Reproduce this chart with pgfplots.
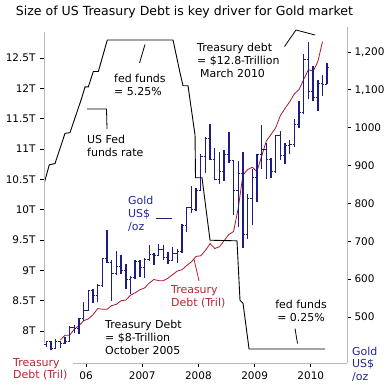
\documentclass[border=0pt]{standalone}
\usepackage{pgfplots}
\pgfplotsset{compat=1.18}
\usepackage{pgfplotstable}
\usepackage{fontspec}
\setmainfont{DejaVu Sans}
\definecolor{goldblue}{HTML}{1C1C84}
\definecolor{debtred}{HTML}{A8182E}
\definecolor{axgray}{HTML}{B8B8B8}
\definecolor{txtblue}{HTML}{24249C}
\definecolor{txtred}{HTML}{BE2430}
\pgfdeclareplotmark{openl}{\pgfpathmoveto{\pgfqpoint{-1.9bp}{0pt}}\pgfpathlineto{\pgfqpoint{0pt}{0pt}}\pgfusepathqstroke}
\pgfdeclareplotmark{closer}{\pgfpathmoveto{\pgfqpoint{0pt}{0pt}}\pgfpathlineto{\pgfqpoint{1.9bp}{0pt}}\pgfusepathqstroke}

% Gold monthly OHLC, t = months since Dec 2004 (Apr 2005 = 4)
\pgfplotstableread{
t o h l c
4 428 437 421 435
5 435 436 414 418
6 418 443 415 435
7 435 437 418 430
8 430 448 428 434
9 434 476 434 473
10 473 478 458 470
11 470 497 456 496
12 496 540 490 517
13 517 572 517 569
14 569 575 538 556
15 556 587 540 582
16 582 654 578 654
17 654 730 643 644
18 644 650 543 614
19 614 675 610 633
20 633 663 613 624
21 624 640 573 600
22 600 607 560 604
23 604 650 600 646
24 646 650 606 632
25 632 655 603 651
26 651 690 648 665
27 665 670 637 662
28 662 693 662 679
29 679 690 651 658
30 658 673 640 650
31 650 685 650 667
32 667 680 642 672
33 672 745 670 743
34 743 790 725 789
35 789 845 775 783
36 783 840 781 834
37 834 930 832 923
38 923 975 880 971
39 971 1011 915 916
40 916 947 861 864
41 864 935 852 885
42 885 940 858 930
43 930 988 906 913
44 913 916 770 833
45 833 912 737 880
46 880 937 681 718
47 718 825 705 814
48 814 890 742 869
49 869 930 805 928
50 928 1008 890 942
51 942 960 865 917
52 917 920 866 884
53 884 980 880 979
54 979 990 915 926
55 926 960 904 954
56 954 967 930 955
57 955 1024 950 1008
58 1008 1070 1000 1040
59 1040 1195 1035 1181
60 1181 1227 1075 1096
61 1096 1162 1070 1081
62 1081 1125 1045 1118
63 1118 1140 1085 1115
64 1115 1170 1115 1160
}\gold

% US Treasury debt, trillions
\pgfplotstableread{
t d
7 7.85
8 7.93
9 7.93
10 8.03
11 8.09
12 8.17
13 8.20
14 8.27
15 8.37
16 8.36
17 8.36
18 8.42
19 8.44
20 8.50
21 8.51
22 8.59
23 8.63
24 8.68
25 8.71
26 8.79
27 8.85
28 8.83
29 8.83
30 8.87
31 8.93
32 8.99
33 9.01
34 9.08
35 9.14
36 9.23
37 9.24
38 9.33
39 9.44
40 9.36
41 9.39
42 9.49
43 9.59
44 9.64
45 10.02
46 10.57
47 10.66
48 10.70
49 10.63
50 10.88
51 11.13
52 11.24
53 11.35
54 11.55
55 11.67
56 11.78
57 11.91
58 11.98
59 12.15
60 12.31
61 12.28
62 12.44
63 12.77
}\debt

% Fed funds rate (percent)
\pgfplotstableread{
x r
3.10 2.94
4.16 3.23
5.38 3.25
7.52 3.74
8.58 3.75
11.08 4.31
11.79 4.49
12.49 4.49
13.56 4.74
14.63 4.74
16.55 5.25
30.58 5.25
32.07 4.72
32.71 4.51
33.78 4.51
35.28 3.71
35.38 3.02
36.77 3.02
38.48 2.01
44.24 2.00
44.88 1.04
45.53 0.99
46.81 0.25
63.04 0.25
}\fed

\begin{document}
\begin{tikzpicture}
\useasboundingbox (0,0) rectangle (388bp,-386bp);
\pgfplotsset{
  common/.style={
    at={(44bp,-363bp)}, anchor=south west, scale only axis,
    width=303bp, height=336bp, xmin=3.03, xmax=67.73,
    tick align=outside,
    major tick style={black, line width=0.8bp},
    major tick length=4bp,
    ticklabel style={font=\fontsize{10.5}{12}\selectfont},
  }
}
% Treasury debt (left axis)
\begin{axis}[common,
  ymin=7.473, ymax=13.011,
  axis x line*=bottom, axis y line*=left, axis line style={draw=none},
  xtick={12,24,36,48,60}, xticklabels={06,2007,2008,2009,2010},
  x tick label style={yshift=-1bp},
  ytick={8,8.5,9,9.5,10,10.5,11,11.5,12,12.5},
  yticklabels={8T,8.5T,9T,9.5T,10T,10.5T,11T,11.5T,12T,12.5T},
  y tick label style={xshift=-1bp},
]
\addplot[debtred, line width=0.8bp] table[x expr=\thisrow{t}-0.5, y=d] {\debt};
\end{axis}
% Gold (right axis)
\begin{axis}[common,
  ymin=378.5, ymax=1266,
  axis y line*=right, axis x line=none, axis line style={draw=none},
  ytick={500,600,700,800,900,1000,1100,1200},
  yticklabels={500,600,700,800,900,1000,{1,100},{1,200}},
]
\addplot[draw=none, mark=none,
  error bars/.cd, y dir=plus, y explicit,
  error mark=none, error bar style={goldblue, line width=1.4bp}]
  table[x expr=\thisrow{t}-0.5, y=l, y error expr=\thisrow{h}-\thisrow{l}] {\gold};
\addplot[goldblue, only marks, mark=openl, mark options={line width=1bp}]
  table[x expr=\thisrow{t}-0.5, y=o] {\gold};
\addplot[goldblue, only marks, mark=closer, mark options={line width=1bp}]
  table[x expr=\thisrow{t}-0.5, y=c] {\gold};
\end{axis}
% Fed funds (hidden axis)
\begin{axis}[common, hide axis, ymin=0.023, ymax=5.46]
\addplot[black, line width=0.9bp] table[x=x, y=r] {\fed};
\end{axis}

\begin{scope}[x=1bp, y=-1bp,
  ann/.style={inner sep=0, align=left, font=\fontsize{11}{13.3}\selectfont}]
% axis lines
\draw[axgray, line width=1bp] (44,32) -- (44,343);
\draw[axgray, line width=1bp] (73,363) -- (347,363);
\draw[axgray, line width=1bp] (347,27) -- (347,363);
% title
\node[anchor=base west, inner sep=0, outer sep=0] at (16,16) {\resizebox{337bp}{!}{\fontsize{12}{14}\selectfont Size of US Treasury Debt is key driver for Gold market}};
% annotations (base = last line)
\node[ann, anchor=base west] at (114,95.3) {fed funds\\= 5.25\%};
\draw[black, line width=0.8bp] (139.5,63) -- (145,44.5);
\node[ann, anchor=base west] at (87,156.3) {US Fed\\funds rate};
\draw[black, line width=0.8bp] (87,109) -- (106.5,109) -- (107,129);
\node[ann, anchor=base west] at (197,77.6) {Treasury debt\\= \$12.8-Trillion\\\hspace*{3bp}March 2010};
\draw[black, line width=0.8bp] (284.5,46.5) -- (296,30) -- (315,35);
\node[ann, anchor=base west, text=txtblue] at (128,230.6) {Gold\\US\$\\/oz};
\draw[goldblue, line width=0.8bp] (156,218) -- (172,218);
\node[ann, anchor=base west, text=txtred] at (171,306.3) {Treasury\\Debt (Tril)};
\draw[txtred, line width=0.8bp] (194,259) -- (199,281);
\node[ann, anchor=base west] at (105,354.6) {Treasury Debt\\= \$8-Trillion\\October 2005};
\node[ann, anchor=base, align=center] at (301,321.3) {fed funds\\= 0.25\%};
\draw[black, line width=0.8bp] (295,328.5) -- (297.5,343.5);
\node[ann, anchor=base west, text=txtred, font=\fontsize{11}{12}\selectfont] at (13,378) {Treasury\\Debt (Tril)};
\node[ann, anchor=base west, text=txtblue, font=\fontsize{11}{12.5}\selectfont] at (352,380) {Gold\\US\$\\/oz};
\end{scope}
\end{tikzpicture}
\end{document}
